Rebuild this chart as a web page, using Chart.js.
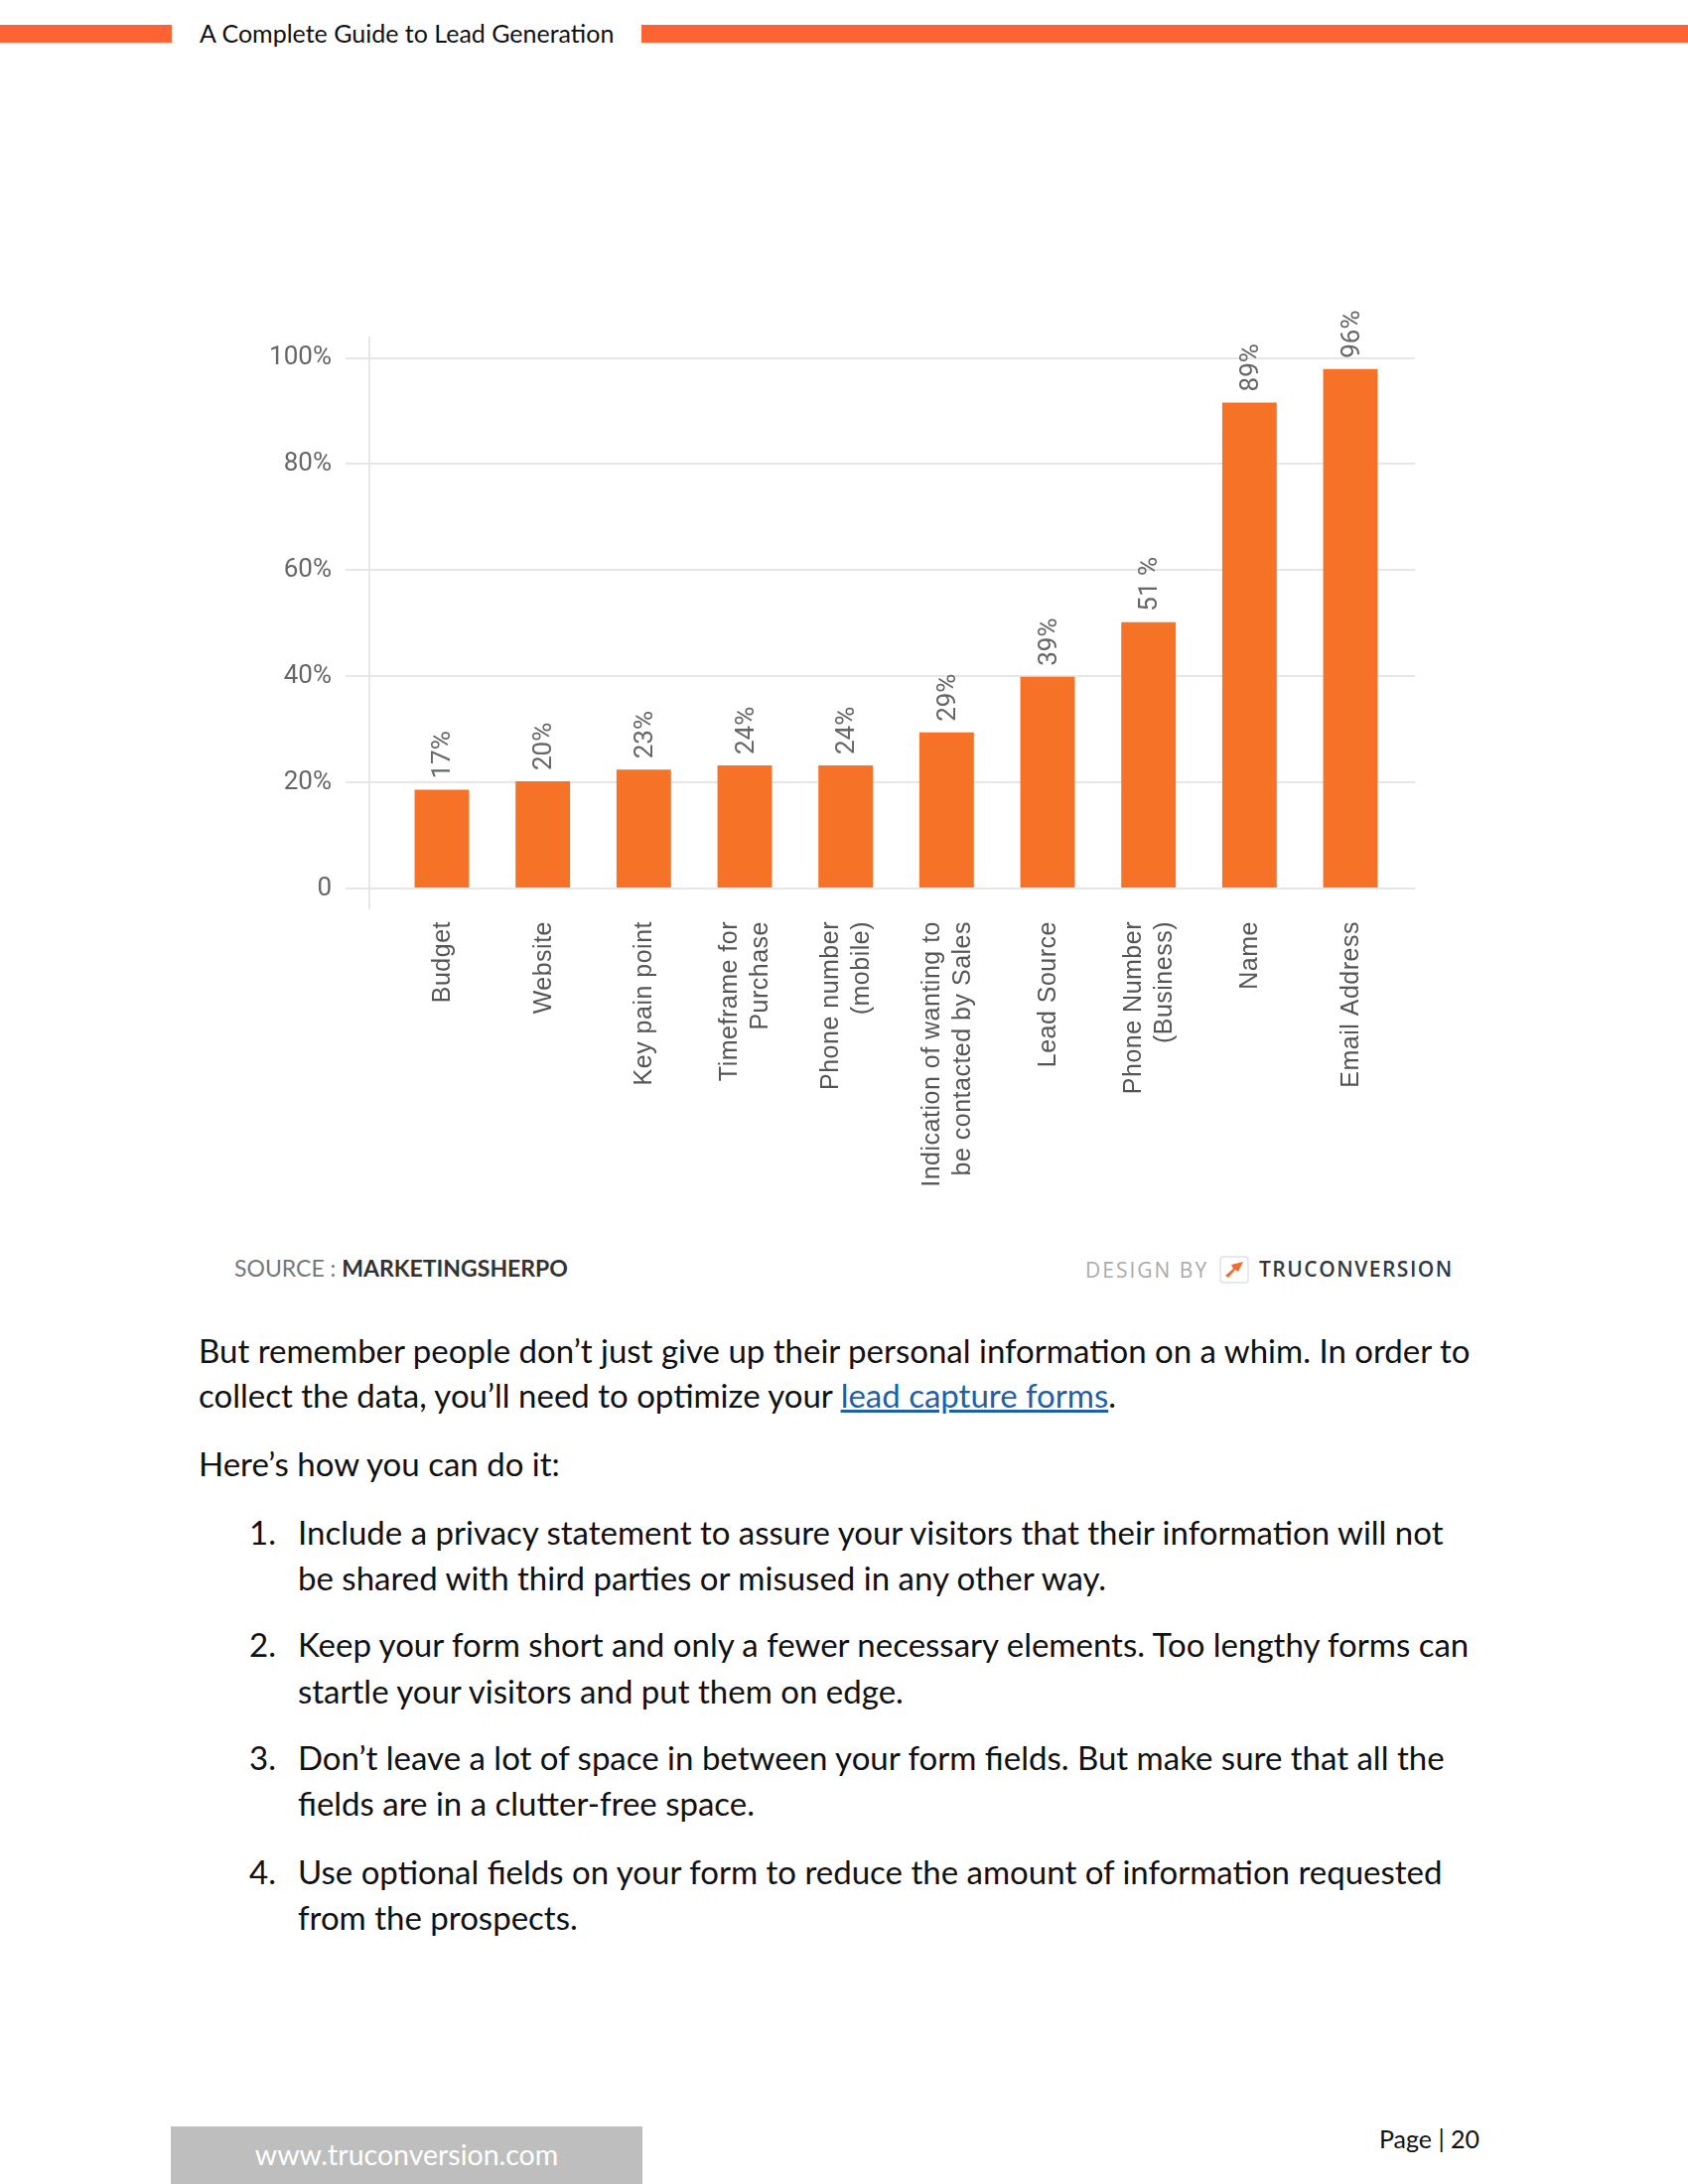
<!DOCTYPE html>
<html>
<head>
<meta charset="utf-8">
<script src="https://cdn.jsdelivr.net/npm/chart.js@4.4.1/dist/chart.umd.min.js"></script>
<style>
  html, body { margin:0; padding:0; background:#fff; }
  body { width:1700px; height:2200px; position:relative; overflow:hidden; font-family:'Lato', sans-serif; color:#111; }
  .abs { position:absolute; white-space:nowrap; }
  .bar { position:absolute; background:#FF6333; }
  .line { position:absolute; white-space:nowrap; font-size:33px; line-height:40px; color:#111; }
  a { color:#1F5FA8; text-decoration:underline; }
</style>
</head>
<body>
<!-- header -->
<div class="bar" style="left:0;top:25px;width:173px;height:18px"></div>
<div class="bar" style="left:646px;top:25px;width:1054px;height:18px"></div>
<div class="abs" style="left:201px;top:18px;font-size:25px;line-height:30px;color:#111">A Complete Guide to Lead Generation</div>

<canvas id="c" width="1700" height="950" style="position:absolute;left:0;top:300px"></canvas>

<!-- source / design -->
<div class="abs" style="left:236px;top:1262px;font-size:23px;line-height:30px;">
  <span style="color:#777">SOURCE : </span><span style="color:#333;font-weight:700">MARKETINGSHERPO</span>
</div>
<div class="abs" style="left:1093px;top:1264px;font-family:'Open Sans';font-size:21px;letter-spacing:2px;line-height:30px;color:#aaa;">DESIGN BY</div>
<svg class="abs" style="left:1228px;top:1265px" width="30" height="28" viewBox="0 0 30 28">
  <rect x="1" y="1" width="28" height="26" rx="3" fill="none" stroke="#e2e2e2" stroke-width="1.5"/>
  <path d="M6 20 L14 13 L12 9 L24 6 L19 16 L16 14 L9 22 Z" fill="#F26A2E"/>
</svg>
<div class="abs" style="left:1268px;top:1263px;font-family:'Open Sans';font-weight:600;font-size:21px;letter-spacing:1.5px;line-height:30px;color:#2f3b42;">TRUCONVERSION</div>

<!-- body text -->
<div class="line" style="left:200px;top:1340px">But remember people don’t just give up their personal information on a whim. In order to</div>
<div class="line" style="left:200px;top:1385px">collect the data, you’ll need to optimize your <a>lead capture forms</a>.</div>
<div class="line" style="left:200px;top:1454px">Here’s how you can do it:</div>

<div class="line" style="left:251px;top:1523px">1.</div>
<div class="line" style="left:300px;top:1523px">Include a privacy statement to assure your visitors that their information will not</div>
<div class="line" style="left:300px;top:1569px">be shared with third parties or misused in any other way.</div>

<div class="line" style="left:251px;top:1636px">2.</div>
<div class="line" style="left:300px;top:1636px">Keep your form short and only a fewer necessary elements. Too lengthy forms can</div>
<div class="line" style="left:300px;top:1683px">startle your visitors and put them on edge.</div>

<div class="line" style="left:251px;top:1750px">3.</div>
<div class="line" style="left:300px;top:1750px">Don’t leave a lot of space in between your form fields. But make sure that all the</div>
<div class="line" style="left:300px;top:1796px">fields are in a clutter-free space.</div>

<div class="line" style="left:251px;top:1865px">4.</div>
<div class="line" style="left:300px;top:1865px">Use optional fields on your form to reduce the amount of information requested</div>
<div class="line" style="left:300px;top:1911px">from the prospects.</div>

<!-- footer -->
<div class="abs" style="left:172px;top:2142px;width:475px;height:58px;background:#BEBEBE;"></div>
<div class="abs" style="left:172px;top:2151px;width:475px;text-align:center;font-size:28.5px;line-height:38px;color:#fff;">www.truconversion.com</div>
<div class="abs" style="left:1389px;top:2139px;font-size:25px;line-height:30px;color:#111;">Page | 20</div>

<script>
// ---- data ----
const categories = [
  ['Budget'],
  ['Website'],
  ['Key pain point'],
  ['Timeframe for', 'Purchase'],
  ['Phone number', '(mobile)'],
  ['Indication of wanting to', 'be contacted by Sales'],
  ['Lead Source'],
  ['Phone Number', '(Business)'],
  ['Name'],
  ['Email Address']
];
const barValues = [18.6, 20.2, 22.4, 23.2, 23.2, 29.4, 39.9, 50.2, 91.6, 97.9];
const valueLabels = ['17%', '20%', '23%', '24%', '24%', '29%', '39%', '51 %', '89%', '96%'];
const yTickValues = [0, 20, 40, 60, 80, 100];
const yTickLabels = ['0', '20%', '40%', '60%', '80%', '100%'];

const X_FONT = 25, X_LINE = 31, X_PAD = 13;

const labelsPlugin = {
  id: 'labels',
  afterDatasetsDraw(chart) {
    const ctx = chart.ctx;
    const meta = chart.getDatasetMeta(0);
    const xs = chart.scales.x;
    // value labels above bars
    ctx.save();
    ctx.fillStyle = '#666';
    ctx.font = '26px Roboto';
    ctx.textAlign = 'left';
    ctx.textBaseline = 'middle';
    meta.data.forEach((el, i) => {
      ctx.save();
      ctx.translate(el.x + 2, el.y - 11);
      ctx.rotate(-Math.PI / 2);
      ctx.fillText(valueLabels[i], 0, 0);
      ctx.restore();
    });
    ctx.restore();
    // category labels (rotated, multi-line centred on tick)
    ctx.save();
    ctx.fillStyle = '#555';
    ctx.font = X_FONT + "px 'Liberation Sans', Arial, sans-serif";
    if ('letterSpacing' in ctx) ctx.letterSpacing = '0.5px';
    ctx.textAlign = 'right';
    ctx.textBaseline = 'middle';
    const top = chart.chartArea.bottom + X_PAD;
    categories.forEach((lines, i) => {
      const cx = xs.getPixelForValue(i);
      lines.forEach((t, j) => {
        const lx = cx + 1 + (j - (lines.length - 1) / 2) * X_LINE;
        ctx.save();
        ctx.translate(lx, top);
        ctx.rotate(-Math.PI / 2);
        ctx.fillText(t, 0, 0);
        ctx.restore();
      });
    });
    ctx.restore();
  }
};

new Chart(document.getElementById('c'), {
  type: 'bar',
  data: {
    datasets: [{
      data: barValues.map((v, i) => ({ x: i, y: v })),
      backgroundColor: '#F67226',
      borderWidth: 0,
      barPercentage: 0.6,
      categoryPercentage: 0.9
    }]
  },
  options: {
    responsive: false,
    devicePixelRatio: 1,
    animation: false,
    layout: { padding: { left: 0, right: 275, top: 40, bottom: 0 } },
    plugins: { legend: { display: false }, tooltip: { enabled: false } },
    scales: {
      x: {
        type: 'linear',
        offset: false,
        min: -0.718,
        max: 9.639,
        grid: { display: false, drawTicks: false, offset: false },
        border: { display: false },
        ticks: { display: false, stepSize: 1, includeBounds: false },
        afterFit: (s) => { s.height = 335; }
      },
      y: {
        min: -3.74,
        max: 103.84,
        grid: { color: '#e6e6e6', lineWidth: 2, tickLength: 24, drawTicks: true },
        border: { color: '#e6e6e6', width: 2 },
        ticks: {
          stepSize: 20,
          includeBounds: false,
          padding: 14,
          color: '#666',
          font: { family: 'Roboto', size: 26 },
          callback: (v) => { const k = yTickValues.indexOf(v); return k >= 0 ? yTickLabels[k] : ''; }
        },
        afterFit: (s) => { s.width = 372; }
      }
    }
  },
  plugins: [labelsPlugin]
});
</script>
</body>
</html>
